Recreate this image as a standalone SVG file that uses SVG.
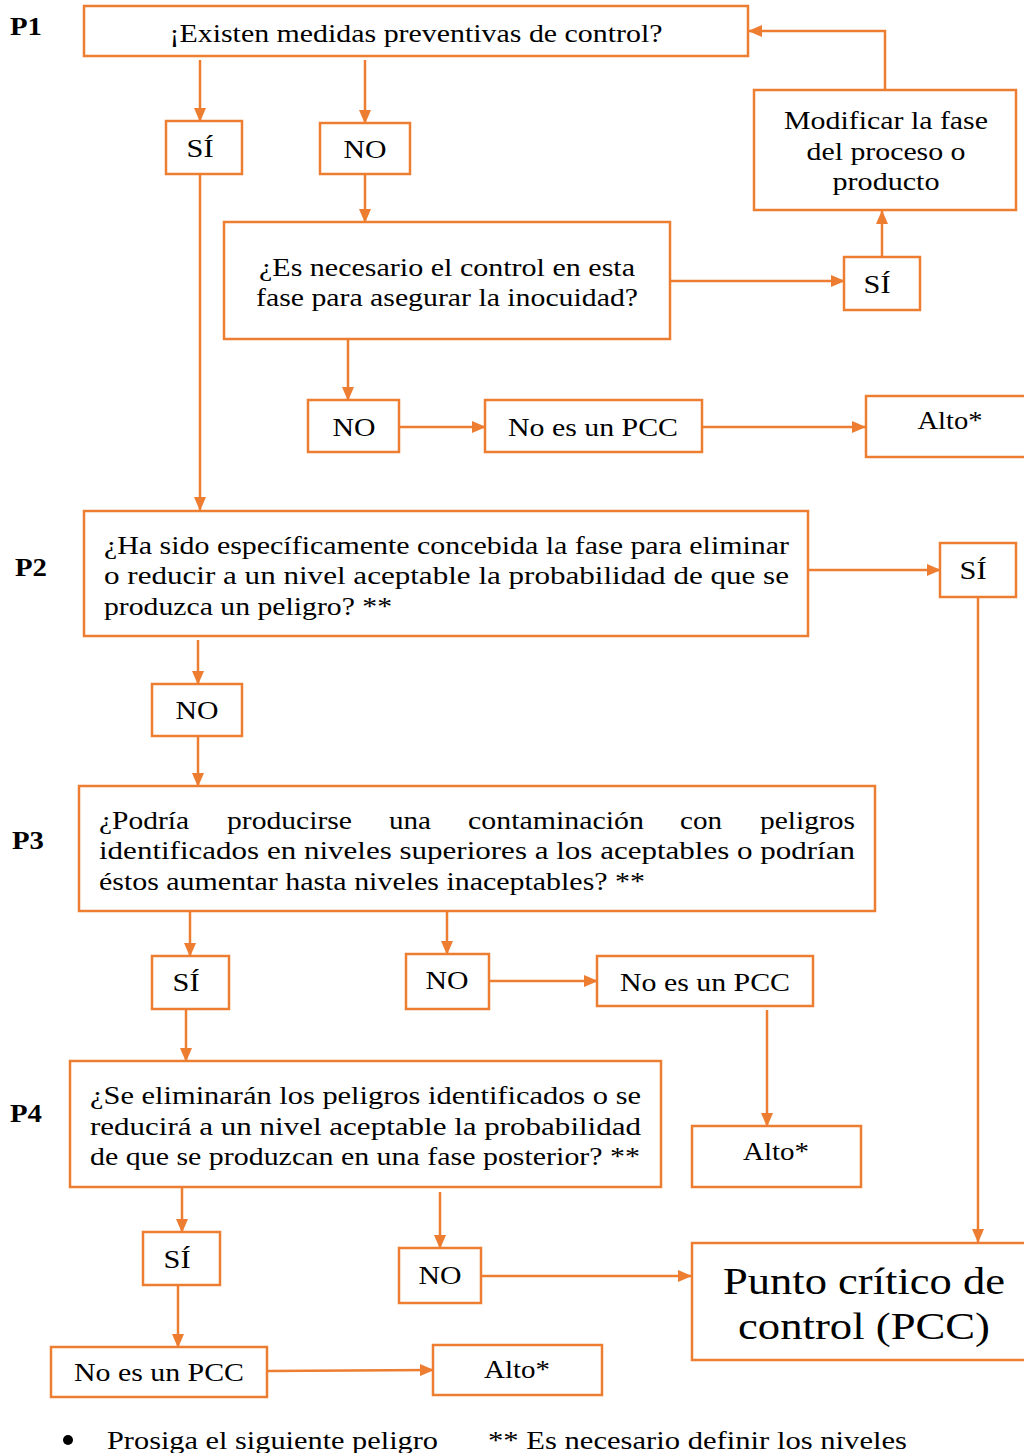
<svg xmlns="http://www.w3.org/2000/svg" width="1024" height="1453" viewBox="0 0 1024 1453">
<style>
.b{fill:#fff;stroke:#ED7D31;stroke-width:2.5}
.t{font-family:"Liberation Serif","Times New Roman",serif;font-size:26px;fill:#000}
.c{text-anchor:middle}
.p{font-family:"Liberation Serif","Times New Roman",serif;font-size:26px;font-weight:bold;fill:#000}
.e{fill:none;stroke:#ED7D31;stroke-width:2.5}
</style>
<defs>
<marker id="ah" markerUnits="userSpaceOnUse" markerWidth="14" markerHeight="12" refX="13" refY="6" orient="auto">
<path d="M0,0 L14,6 L0,12 Z" fill="#ED7D31"/>
</marker>
</defs>
<rect width="1024" height="1453" fill="#fff"/>
<g id="labels">
<text class="p" x="10" y="35" textLength="32" lengthAdjust="spacingAndGlyphs">P1</text>
<text class="p" x="15" y="576" textLength="32" lengthAdjust="spacingAndGlyphs">P2</text>
<text class="p" x="12" y="849" textLength="32" lengthAdjust="spacingAndGlyphs">P3</text>
<text class="p" x="10" y="1122" textLength="32" lengthAdjust="spacingAndGlyphs">P4</text>
</g>
<g id="connectors">
<path class="e" d="M200,60 V121" marker-end="url(#ah)"/>
<path class="e" d="M365,60 V123" marker-end="url(#ah)"/>
<path class="e" d="M365,174 V222" marker-end="url(#ah)"/>
<path class="e" d="M885,90 V31 H749" marker-end="url(#ah)"/>
<path class="e" d="M670,281 H844" marker-end="url(#ah)"/>
<path class="e" d="M882,257 V211" marker-end="url(#ah)"/>
<path class="e" d="M348,339 V400" marker-end="url(#ah)"/>
<path class="e" d="M399,427 H485" marker-end="url(#ah)"/>
<path class="e" d="M702,427 H865" marker-end="url(#ah)"/>
<path class="e" d="M200,174 V510" marker-end="url(#ah)"/>
<path class="e" d="M808,570 H940" marker-end="url(#ah)"/>
<path class="e" d="M978,597 V1242" marker-end="url(#ah)"/>
<path class="e" d="M198,640 V684" marker-end="url(#ah)"/>
<path class="e" d="M198,736 V786" marker-end="url(#ah)"/>
<path class="e" d="M190,911 V956" marker-end="url(#ah)"/>
<path class="e" d="M447,911 V954" marker-end="url(#ah)"/>
<path class="e" d="M489,981 H597" marker-end="url(#ah)"/>
<path class="e" d="M767,1010 V1126" marker-end="url(#ah)"/>
<path class="e" d="M186,1009 V1061" marker-end="url(#ah)"/>
<path class="e" d="M182,1187 V1232" marker-end="url(#ah)"/>
<path class="e" d="M440,1192 V1248" marker-end="url(#ah)"/>
<path class="e" d="M481,1276 H691" marker-end="url(#ah)"/>
<path class="e" d="M178,1285 V1347" marker-end="url(#ah)"/>
<path class="e" d="M267,1371 L433,1370" marker-end="url(#ah)"/>
</g>
<g id="q1">
<rect class="b" x="84" y="6" width="664" height="50"/>
<text class="t c" x="416" y="42" textLength="493" lengthAdjust="spacingAndGlyphs">¡Existen medidas preventivas de control?</text>
</g>
<g id="si1">
<rect class="b" x="166" y="121" width="76" height="53"/>
<text class="t c" x="200" y="157" textLength="27" lengthAdjust="spacingAndGlyphs">SÍ</text>
</g>
<g id="no1">
<rect class="b" x="320" y="123" width="90" height="51"/>
<text class="t c" x="365" y="158" textLength="43" lengthAdjust="spacingAndGlyphs">NO</text>
</g>
<g id="modificar">
<rect class="b" x="754" y="90" width="262" height="120"/>
<text class="t c" x="886" y="129" textLength="204" lengthAdjust="spacingAndGlyphs">Modificar la fase</text>
<text class="t c" x="886" y="160" textLength="159" lengthAdjust="spacingAndGlyphs">del proceso o</text>
<text class="t c" x="886" y="190" textLength="107" lengthAdjust="spacingAndGlyphs">producto</text>
</g>
<g id="q1b">
<rect class="b" x="224" y="222" width="446" height="117"/>
<text class="t c" x="447" y="276" textLength="376" lengthAdjust="spacingAndGlyphs">¿Es necesario el control en esta</text>
<text class="t c" x="447" y="306" textLength="382" lengthAdjust="spacingAndGlyphs">fase para asegurar la inocuidad?</text>
</g>
<g id="si1b">
<rect class="b" x="844" y="257" width="76" height="53"/>
<text class="t c" x="877" y="293" textLength="27" lengthAdjust="spacingAndGlyphs">SÍ</text>
</g>
<g id="no1b">
<rect class="b" x="308" y="400" width="91" height="52"/>
<text class="t c" x="354" y="436" textLength="43" lengthAdjust="spacingAndGlyphs">NO</text>
</g>
<g id="nopcc1">
<rect class="b" x="485" y="400" width="217" height="52"/>
<text class="t c" x="593" y="436" textLength="170" lengthAdjust="spacingAndGlyphs">No es un PCC</text>
</g>
<g id="alto1">
<rect class="b" x="866" y="396" width="170" height="61"/>
<text class="t c" x="950" y="429" textLength="65" lengthAdjust="spacingAndGlyphs">Alto*</text>
</g>
<g id="q2">
<rect class="b" x="84" y="511" width="724" height="125"/>
<text class="t" x="104" y="554" textLength="685" lengthAdjust="spacingAndGlyphs">¿Ha sido específicamente concebida la fase para eliminar</text>
<text class="t" x="104" y="584" textLength="685" lengthAdjust="spacingAndGlyphs">o reducir a un nivel aceptable la probabilidad de que se</text>
<text class="t" x="104" y="615" textLength="288" lengthAdjust="spacingAndGlyphs">produzca un peligro? **</text>
</g>
<g id="si2">
<rect class="b" x="940" y="543" width="76" height="54"/>
<text class="t c" x="973" y="579" textLength="27" lengthAdjust="spacingAndGlyphs">SÍ</text>
</g>
<g id="no2">
<rect class="b" x="152" y="684" width="90" height="52"/>
<text class="t c" x="197" y="719" textLength="43" lengthAdjust="spacingAndGlyphs">NO</text>
</g>
<g id="q3">
<rect class="b" x="79" y="786" width="796" height="125"/>
<text class="t" y="829"><tspan x="99" textLength="90" lengthAdjust="spacingAndGlyphs">¿Podría</tspan><tspan x="227" textLength="125" lengthAdjust="spacingAndGlyphs">producirse</tspan><tspan x="389" textLength="42" lengthAdjust="spacingAndGlyphs">una</tspan><tspan x="468" textLength="176" lengthAdjust="spacingAndGlyphs">contaminación</tspan><tspan x="680" textLength="42" lengthAdjust="spacingAndGlyphs">con</tspan><tspan x="760" textLength="95" lengthAdjust="spacingAndGlyphs">peligros</tspan></text>
<text class="t" x="99" y="859" textLength="756" lengthAdjust="spacingAndGlyphs">identificados en niveles superiores a los aceptables o podrían</text>
<text class="t" x="99" y="890" textLength="546" lengthAdjust="spacingAndGlyphs">éstos aumentar hasta niveles inaceptables? **</text>
</g>
<g id="si3">
<rect class="b" x="152" y="956" width="77" height="53"/>
<text class="t c" x="186" y="991" textLength="27" lengthAdjust="spacingAndGlyphs">SÍ</text>
</g>
<g id="no3">
<rect class="b" x="406" y="954" width="83" height="55"/>
<text class="t c" x="447" y="989" textLength="43" lengthAdjust="spacingAndGlyphs">NO</text>
</g>
<g id="nopcc3">
<rect class="b" x="597" y="956" width="216" height="50"/>
<text class="t c" x="705" y="991" textLength="170" lengthAdjust="spacingAndGlyphs">No es un PCC</text>
</g>
<g id="alto3">
<rect class="b" x="692" y="1126" width="169" height="61"/>
<text class="t c" x="776" y="1160" textLength="66" lengthAdjust="spacingAndGlyphs">Alto*</text>
</g>
<g id="q4">
<rect class="b" x="70" y="1061" width="591" height="126"/>
<text class="t" x="90" y="1104" textLength="551" lengthAdjust="spacingAndGlyphs">¿Se eliminarán los peligros identificados o se</text>
<text class="t" x="90" y="1135" textLength="551" lengthAdjust="spacingAndGlyphs">reducirá a un nivel aceptable la probabilidad</text>
<text class="t" x="90" y="1165" textLength="550" lengthAdjust="spacingAndGlyphs">de que se produzcan en una fase posterior? **</text>
</g>
<g id="si4">
<rect class="b" x="143" y="1232" width="77" height="53"/>
<text class="t c" x="177" y="1268" textLength="27" lengthAdjust="spacingAndGlyphs">SÍ</text>
</g>
<g id="no4">
<rect class="b" x="399" y="1248" width="82" height="55"/>
<text class="t c" x="440" y="1284" textLength="43" lengthAdjust="spacingAndGlyphs">NO</text>
</g>
<g id="pcc">
<rect class="b" x="692" y="1243" width="340" height="117"/>
<text class="t c" x="864" y="1294" style="font-size:38px" textLength="282" lengthAdjust="spacingAndGlyphs">Punto crítico de</text>
<text class="t c" x="864" y="1339" style="font-size:38px" textLength="252" lengthAdjust="spacingAndGlyphs">control (PCC)</text>
</g>
<g id="nopcc4">
<rect class="b" x="51" y="1347" width="216" height="50"/>
<text class="t c" x="159" y="1381" textLength="170" lengthAdjust="spacingAndGlyphs">No es un PCC</text>
</g>
<g id="alto4">
<rect class="b" x="433" y="1345" width="169" height="50"/>
<text class="t c" x="517" y="1378" textLength="66" lengthAdjust="spacingAndGlyphs">Alto*</text>
</g>
<g id="footer">
<circle cx="68" cy="1440" r="5" fill="#000"/>
<text class="t" x="107" y="1449" textLength="331" lengthAdjust="spacingAndGlyphs">Prosiga el siguiente peligro</text>
<text class="t" x="488" y="1449" textLength="419" lengthAdjust="spacingAndGlyphs">** Es necesario definir los niveles</text>
</g>
</svg>
